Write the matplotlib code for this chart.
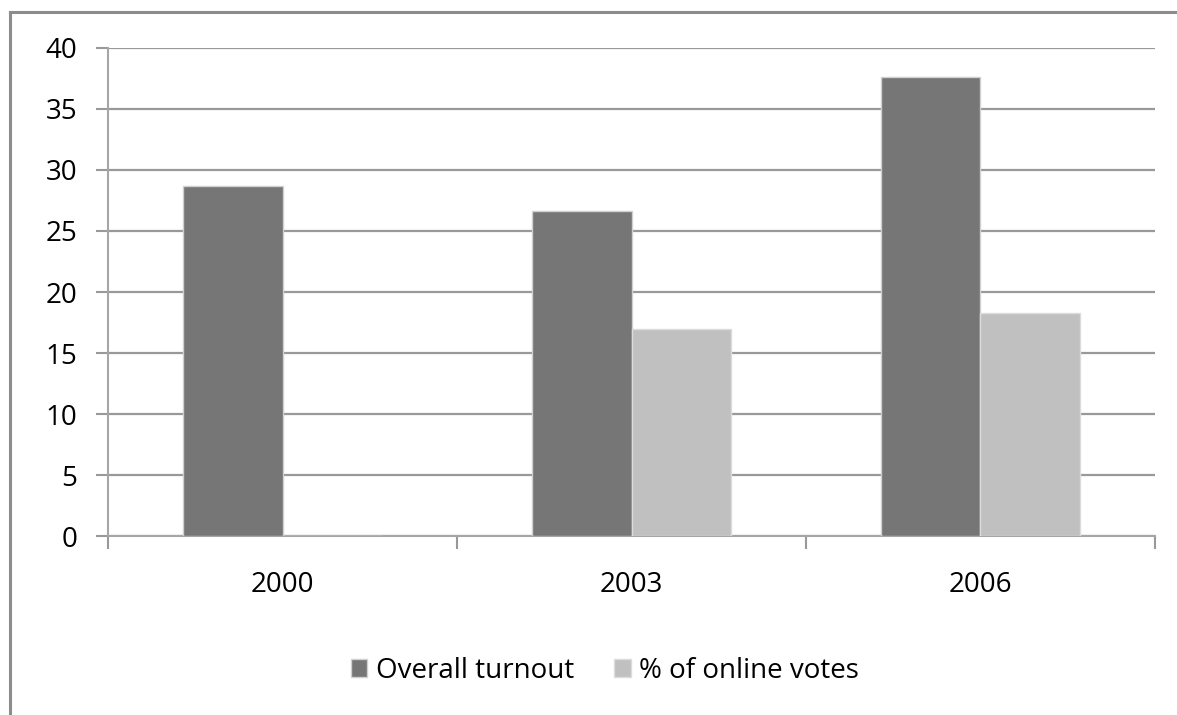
import matplotlib.pyplot as plt
from matplotlib.lines import Line2D
import numpy as np

plt.rcParams['font.family'] = ['Open Sans', 'DejaVu Sans']

years = ['2000', '2003', '2006']
overall_turnout = [28.7, 26.6, 37.6]
online_votes = [0, 17.0, 18.3]

fig = plt.figure(figsize=(11.77, 7.15), dpi=100)
ax = fig.add_axes([0.0918, 0.2503, 0.8895, 0.6826])

x = np.arange(len(years))
w = 0.284
ax.bar(x - w / 2, overall_turnout, w, color='#767676', edgecolor='#d0d0d0',
       linewidth=1, label='Overall turnout', zorder=3)
ax.bar(x + w / 2, online_votes, w, color='#c0c0c0', edgecolor='#dcdcdc',
       linewidth=1, label='% of online votes', zorder=3)

ax.set_xlim(-0.5, 2.5)
ax.set_ylim(0, 40)
ax.set_yticks(range(0, 41, 5))
ax.yaxis.grid(True, color='#999999', linewidth=1.6)
ax.set_axisbelow(True)

# category boundary ticks on x axis
ax.set_xticks([-0.5, 0.5, 1.5, 2.5])
ax.set_xticklabels([])
ax.set_xticks(x, minor=True)
ax.set_xticklabels(years, minor=True)
ax.tick_params(axis='x', which='major', length=9, width=1.5, color='#999999')
ax.tick_params(axis='x', which='minor', length=0, pad=25, labelsize=20)
ax.tick_params(axis='y', length=9, width=1.5, color='#999999', labelsize=20, pad=13)

for s in ['top', 'right']:
    ax.spines[s].set_visible(False)
for s in ['left', 'bottom']:
    ax.spines[s].set_color('#a6a6a6')
    ax.spines[s].set_linewidth(1.5)

fig.legend(loc='center', bbox_to_anchor=(0.514, 0.0615), ncol=2, frameon=False,
           fontsize=20, handlelength=0.6, handleheight=0.6, handletextpad=0.3,
           columnspacing=1.45)

# outer chart border (left and top only visible)
fig.add_artist(Line2D([0.0085, 0.0085], [0, 0.983], transform=fig.transFigure,
                      color='#8c8c8c', linewidth=2.2))
fig.add_artist(Line2D([0.0085, 1], [0.983, 0.983], transform=fig.transFigure,
                      color='#8c8c8c', linewidth=2.2))

fig.savefig('out.png', dpi=100)
